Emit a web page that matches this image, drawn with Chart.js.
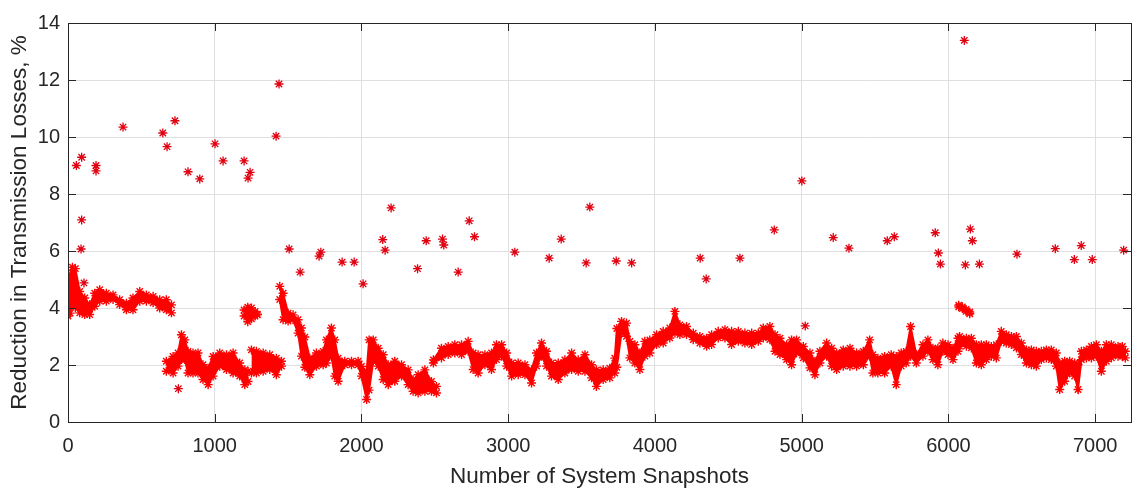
<!DOCTYPE html>
<html>
<head>
<meta charset="utf-8">
<script src="https://cdn.jsdelivr.net/npm/chart.js@4.4.1/dist/chart.umd.min.js"></script>
<style>
    html, body { margin: 0; padding: 0; background: #fff; }
    #wrap { width: 1143px; height: 492px; position: relative; }
</style>
</head>
<body>
<div id="wrap"><canvas id="lossChart"></canvas></div>
<script>
// axis ticks
const xTicks = [0, 1000, 2000, 3000, 4000, 5000, 6000, 7000];
const yTicks = [0, 2, 4, 6, 8, 10, 12, 14];

// isolated snapshots (the scattered asterisks)
const outlierX = [57, 93, 93, 89, 109, 191, 191, 375, 646, 675, 729, 752, 818, 898, 1002, 1057, 1200, 1227, 1241,
    1418, 1438, 1507, 1582, 1711, 1723, 1868, 1950, 2011, 2145, 2161, 2202, 2382, 2441, 2552, 2561, 2659, 2734,
    2770, 3045, 3279, 3361, 3531, 3556, 3736, 3841, 4308, 4349, 4579, 4813, 5001, 5024, 5215, 5322, 5583, 5631,
    5910, 5931, 5945, 6108, 6115, 6149, 6163, 6211, 6467, 6728, 6858, 6905, 6980, 7194];
const outlierY = [9.0, 9.29, 7.09, 6.07, 4.88, 9.0, 8.81, 10.35, 10.14, 9.66, 10.57, 1.17, 8.78, 8.53, 9.76, 9.16, 9.16, 8.56, 8.76,
    10.03, 11.86, 6.07, 5.26, 5.82, 5.96, 5.61, 5.61, 4.85, 6.40, 6.03, 7.51, 5.38, 6.36, 6.42, 6.21, 5.26, 7.06,
    6.50, 5.96, 5.75, 6.42, 5.58, 7.54, 5.65, 5.58, 5.75, 5.02, 5.75, 6.74, 8.46, 3.37, 6.47, 6.10, 6.36, 6.50,
    6.64, 5.93, 5.54, 13.39, 5.51, 6.77, 6.36, 5.54, 5.89, 6.08, 5.70, 6.19, 5.70, 6.03];

// dense band, read as upper / lower edges per stretch
const bandA_x  = [0, 15, 30, 50, 80, 114, 148, 182, 216, 261, 307, 352, 398, 443, 489, 534, 580, 625, 670, 705];
const bandA_hi = [4.78, 5.18, 5.43, 5.38, 4.58, 4.35, 4.11, 4.52, 4.64, 4.52, 4.46, 4.29, 4.17, 4.35, 4.58, 4.46, 4.41, 4.29, 4.29, 4.11];
const bandA_lo = [3.72, 3.82, 4.12, 4.02, 3.83, 3.77, 3.77, 4.06, 4.24, 4.24, 4.30, 4.12, 3.94, 3.94, 4.24, 4.24, 4.18, 4.00, 3.94, 3.83];

const bandB_x  = [670, 716, 750, 773, 796, 818, 852, 886, 920, 955, 989, 1034, 1080, 1125, 1170, 1205, 1227];
const bandB_hi = [2.13, 2.30, 2.42, 3.06, 2.88, 2.48, 2.42, 2.42, 2.01, 1.89, 2.30, 2.42, 2.36, 2.42, 2.07, 1.83, 1.78];
const bandB_lo = [1.78, 1.72, 1.96, 2.19, 2.19, 1.72, 1.72, 1.72, 1.49, 1.31, 1.61, 1.96, 1.84, 1.72, 1.61, 1.31, 1.42];

const bandC_x  = [1200, 1225, 1250, 1275, 1290];
const bandC_hi = [3.93, 4.03, 4.00, 3.88, 3.78];
const bandC_lo = [3.72, 3.52, 3.62, 3.72, 3.76];

const bandD_x  = [1250, 1284, 1330, 1375, 1420, 1455];
const bandD_hi = [2.53, 2.48, 2.42, 2.36, 2.24, 2.13];
const bandD_lo = [1.72, 1.72, 1.78, 1.84, 1.66, 1.96];

const bandE_x  = [1443, 1466, 1500, 1534, 1568, 1591, 1614, 1648, 1693, 1739, 1761, 1795, 1818, 1841, 1886, 1932, 1977,
    2000, 2035, 2052, 2080, 2114, 2148, 2182, 2227, 2273, 2318, 2352, 2386, 2432, 2477, 2511];
const bandE_hi = [4.76, 4.52, 3.82, 3.76, 3.59, 3.30, 2.98, 2.24, 2.42, 2.48, 2.88, 3.30, 2.88, 2.24, 2.13, 2.13, 2.13,
    1.95, 1.78, 2.88, 2.88, 2.59, 2.36, 2.01, 2.13, 2.01, 1.83, 1.48, 1.66, 1.83, 1.42, 1.25];
const bandE_lo = [4.30, 3.59, 3.54, 3.59, 3.12, 2.31, 1.92, 1.66, 1.96, 2.01, 2.07, 2.30, 1.61, 1.43, 2.01, 2.01, 2.01,
    1.61, 0.79, 1.12, 2.13, 1.96, 1.49, 1.31, 1.43, 1.61, 1.31, 1.08, 1.02, 1.08, 1.08, 1.02];

const bandF_x  = [2490, 2545, 2591, 2636, 2682, 2727, 2761, 2795, 2841, 2886, 2920, 2955, 2989, 3023, 3068, 3114, 3159,
    3193, 3227, 3261, 3295, 3341, 3386, 3432, 3477, 3523, 3568, 3601, 3647, 3692, 3726, 3740, 3772, 3806, 3829, 3863,
    3897, 3931, 3965, 4011, 4056, 4101, 4136, 4170, 4215, 4261, 4306, 4352, 4386, 4431, 4477, 4522, 4568, 4613, 4659,
    4704, 4738, 4783, 4818, 4852, 4897, 4931, 4965, 5011, 5056, 5090, 5124, 5170, 5204, 5238, 5283, 5329, 5374, 5420,
    5463, 5485, 5519, 5565, 5610, 5644, 5678, 5712, 5742, 5781, 5826, 5860, 5894, 5928, 5962, 5997, 6031, 6065, 6076,
    6122, 6156, 6190, 6224, 6258, 6292, 6326, 6360, 6394, 6429, 6463, 6497, 6531, 6565, 6599, 6633, 6667, 6701, 6735,
    6758, 6792, 6826, 6860, 6883, 6906, 6940, 6974, 7008, 7042, 7076, 7110, 7156, 7185, 7205];
const bandF_hi = [2.18, 2.59, 2.65, 2.71, 2.71, 2.83, 2.42, 2.36, 2.36, 2.42, 2.71, 2.71, 2.42, 2.07, 2.07, 2.01, 1.83,
    2.42, 2.77, 2.48, 2.07, 2.07, 2.18, 2.42, 2.18, 2.36, 2.01, 1.83, 1.83, 1.89, 2.24, 3.28, 3.53, 3.47, 2.83, 2.71,
    2.42, 2.83, 2.88, 3.06, 3.18, 3.30, 3.88, 3.41, 3.35, 3.12, 3.00, 2.94, 3.06, 3.18, 3.24, 3.18, 3.18, 3.12, 3.12,
    3.12, 3.30, 3.35, 3.06, 2.94, 2.71, 2.88, 2.88, 2.65, 2.42, 2.13, 2.48, 2.77, 2.59, 2.42, 2.53, 2.59, 2.42, 2.48,
    2.88, 2.36, 2.24, 2.30, 2.36, 2.30, 2.42, 2.48, 3.35, 2.36, 2.71, 2.88, 2.59, 2.59, 2.77, 2.71, 2.59, 2.94, 3.00,
    2.94, 2.94, 2.71, 2.71, 2.71, 2.65, 2.71, 3.18, 3.06, 3.00, 3.00, 2.77, 2.53, 2.53, 2.48, 2.48, 2.53, 2.53, 2.42,
    2.07, 2.13, 2.13, 2.07, 2.01, 2.48, 2.53, 2.65, 2.71, 2.48, 2.71, 2.71, 2.65, 2.65, 2.48];
const bandF_lo = [2.07, 2.25, 2.37, 2.42, 2.37, 2.48, 1.84, 1.72, 2.01, 1.84, 2.19, 2.31, 1.96, 1.61, 1.66, 1.66, 1.37,
    1.96, 2.31, 1.96, 1.61, 1.49, 1.72, 1.84, 1.78, 1.78, 1.55, 1.25, 1.49, 1.55, 1.72, 1.92, 3.12, 3.01, 2.25, 2.07,
    1.84, 2.31, 2.42, 2.72, 2.77, 2.95, 3.12, 3.07, 3.07, 2.89, 2.77, 2.66, 2.72, 2.95, 2.95, 2.72, 2.83, 2.77, 2.72,
    2.83, 2.95, 2.89, 2.48, 2.37, 2.19, 2.01, 2.42, 2.25, 1.90, 1.66, 2.07, 2.31, 1.96, 1.84, 1.96, 1.96, 1.96, 2.01,
    2.31, 1.72, 1.72, 1.72, 1.96, 1.31, 1.96, 2.07, 2.31, 2.07, 2.31, 2.48, 2.19, 2.01, 2.48, 2.37, 2.19, 2.48, 2.66,
    2.66, 2.60, 2.07, 2.01, 2.19, 2.31, 2.25, 2.83, 2.77, 2.72, 2.60, 2.37, 2.07, 2.01, 1.96, 2.19, 2.25, 2.19, 1.96,
    1.14, 1.43, 1.72, 1.61, 1.14, 2.19, 2.25, 2.25, 2.31, 1.78, 2.13, 2.25, 2.31, 2.31, 2.25];

const bandG_x  = [6070, 6095, 6120, 6145];
const bandG_hi = [4.10, 4.04, 3.95, 3.86];
const bandG_lo = [4.04, 3.98, 3.88, 3.80];

const RED = "#ff0000";
const AXIS = "#262626";
const FONT = "'Liberation Sans', Arial, Helvetica, sans-serif";

function pts(xs, ys) {
    return xs.map((x, i) => ({ x: x, y: ys[i] }));
}

function bandPair(xs, hi, lo) {
    const common = {
        showLine: true,
        tension: 0,
        borderColor: RED,
        backgroundColor: RED,
        borderWidth: 2,
        pointStyle: "star",
        pointRadius: 4.5,
        pointBorderWidth: 1.4,
        pointBorderColor: RED
    };
    return [
        Object.assign({ data: pts(xs, hi), fill: false }, common),
        Object.assign({ data: pts(xs, lo), fill: "-1" }, common)
    ];
}

// box around plot area with inward tick marks
const boxPlugin = {
    id: "box",
    afterDraw(chart) {
        const { ctx, chartArea: a, scales } = chart;
        const len = 8;
        ctx.save();
        ctx.strokeStyle = AXIS;
        ctx.lineWidth = 1;
        ctx.beginPath();
        xTicks.forEach(v => {
            const px = Math.round(scales.x.getPixelForValue(v)) + 0.5;
            ctx.moveTo(px, a.bottom); ctx.lineTo(px, a.bottom - len);
            ctx.moveTo(px, a.top); ctx.lineTo(px, a.top + len);
        });
        yTicks.forEach(v => {
            const py = Math.round(scales.y.getPixelForValue(v)) + 0.5;
            ctx.moveTo(a.left, py); ctx.lineTo(a.left + len, py);
            ctx.moveTo(a.right, py); ctx.lineTo(a.right - len, py);
        });
        ctx.stroke();
        ctx.strokeRect(Math.round(a.left) + 0.5, Math.round(a.top) + 0.5,
            Math.round(a.right - a.left), Math.round(a.bottom - a.top));
        ctx.restore();
    }
};

document.addEventListener("DOMContentLoaded", function () {
    const ctx = document.getElementById("lossChart").getContext("2d");

    const datasets = [].concat(
        bandPair(bandA_x, bandA_hi, bandA_lo),
        bandPair(bandB_x, bandB_hi, bandB_lo),
        bandPair(bandC_x, bandC_hi, bandC_lo),
        bandPair(bandD_x, bandD_hi, bandD_lo),
        bandPair(bandE_x, bandE_hi, bandE_lo),
        bandPair(bandF_x, bandF_hi, bandF_lo),
        bandPair(bandG_x, bandG_hi, bandG_lo),
        [{
            data: pts(outlierX, outlierY),
            showLine: false,
            pointStyle: "star",
            pointRadius: 4.5,
            pointBorderWidth: 1.3,
            pointBorderColor: "#e00010",
            pointBackgroundColor: "#e00010"
        }]
    );

    new Chart(ctx, {
        type: "scatter",
        data: { datasets: datasets },
        plugins: [boxPlugin],
        options: {
            responsive: true,
            maintainAspectRatio: false,
            animation: false,
            layout: { padding: { top: 23, right: 12, left: 0, bottom: 0 } },
            plugins: {
                legend: { display: false },
                tooltip: { enabled: false }
            },
            scales: {
                x: {
                    type: "linear",
                    min: 0,
                    max: 7244,
                    afterBuildTicks: s => { s.ticks = xTicks.map(v => ({ value: v })); },
                    afterFit: s => { s.height = 70; },
                    grid: { color: "#dfdfdf", drawTicks: false },
                    border: { display: true, color: AXIS },
                    ticks: {
                        color: AXIS,
                        padding: 12,
                        font: { family: FONT, size: 20 },
                        callback: v => String(v)
                    },
                    title: {
                        display: true,
                        text: "Number of System Snapshots",
                        color: AXIS,
                        padding: { top: 0, bottom: 2 },
                        font: { family: FONT, size: 22.5 }
                    }
                },
                y: {
                    min: 0,
                    max: 14,
                    afterBuildTicks: s => { s.ticks = yTicks.map(v => ({ value: v })); },
                    afterFit: s => { s.width = 68; },
                    grid: { color: "#dfdfdf", drawTicks: false },
                    border: { display: true, color: AXIS },
                    ticks: {
                        color: AXIS,
                        padding: 8,
                        font: { family: FONT, size: 20 },
                        callback: v => String(v)
                    },
                    title: {
                        display: true,
                        text: "Reduction in Transmission Losses, %",
                        color: AXIS,
                        padding: { top: 6, bottom: 0 },
                        font: { family: FONT, size: 22.5 }
                    }
                }
            }
        }
    });
});
</script>
</body>
</html>
